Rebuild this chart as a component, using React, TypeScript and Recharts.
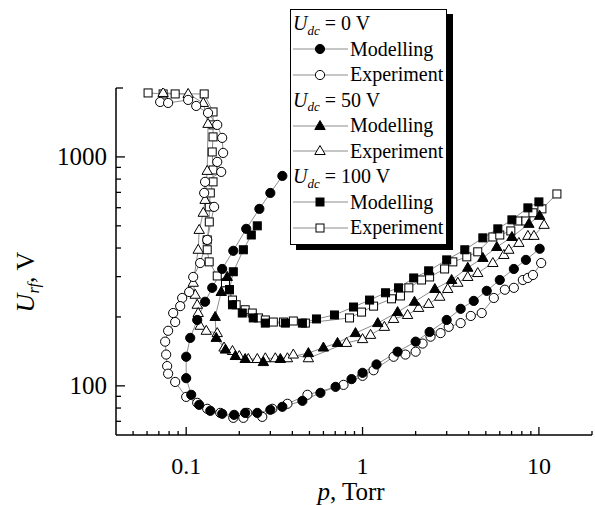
import { LineChart, Line, XAxis, YAxis, Legend } from "recharts";

const FONT = '"Liberation Serif", "Times New Roman", serif';

// U_dc = 0 V
const mod0P = [0.351, 0.3, 0.26, 0.219, 0.185, 0.16, 0.1405, 0.128, 0.1155, 0.1054, 0.1, 0.1, 0.1068, 0.1185, 0.137, 0.16, 0.187, 0.216, 0.253, 0.3, 0.351, 0.456, 0.577, 0.703, 0.866, 1.0, 1.2, 1.58, 2.0, 2.4, 3.0, 3.6, 4.27, 5.06, 6.0, 7.21, 8.44, 10.1];
const mod0U = [826, 696, 593, 485, 389, 324, 268, 233, 194, 162, 134, 108, 91.4, 82.6, 77.8, 75.5, 74.7, 76.2, 76.2, 78.6, 81, 86, 93.2, 99, 107, 114, 124, 141, 156, 172, 194, 217, 235, 260, 290, 324, 355, 397];
const exp0P = [0.0712, 0.079, 0.1026, 0.114, 0.133, 0.15, 0.16, 0.162, 0.15, 0.158, 0.128, 0.1265, 0.144, 0.1316, 0.12, 0.1096, 0.104, 0.0949, 0.0925, 0.0844, 0.0866, 0.079, 0.076, 0.077, 0.078, 0.079, 0.0866, 0.1, 0.1155, 0.1316, 0.156, 0.185, 0.211, 0.222, 0.27, 0.308, 0.375, 0.487, 0.78, 1.0, 1.155, 1.5, 1.75, 2.0, 2.19, 2.43, 2.77, 3.08, 3.6, 4.11, 4.74, 5.55, 6.41, 7.21, 8.11, 8.66, 9.25, 10.3];
const exp0U = [1738, 1721, 1774, 1670, 1557, 1380, 1211, 1041, 951, 860, 778, 696, 605, 434, 344, 299, 257, 242, 223, 208, 190, 174, 156, 137, 122, 113, 104, 89.5, 84.3, 79.4, 76.2, 72.5, 72.5, 76.2, 73.2, 79.4, 83.5, 91.4, 101, 110.6, 117, 134, 137, 141, 153, 164, 170, 181, 188, 202, 208, 242, 263, 268, 290, 296, 305, 344];

// U_dc = 50 V
const mod50P = [0.171, 0.158, 0.146, 0.148, 0.167, 0.19, 0.216, 0.274, 0.342, 0.493, 0.6, 0.721, 0.912, 1.22, 1.58, 1.97, 2.57, 3.2, 3.95, 4.81, 5.77, 7.03, 8.77, 10.1];
const mod50U = [299, 257, 200, 162, 144, 135, 131, 127, 131, 139, 147, 154, 170, 188, 210, 233, 265, 290, 328, 362, 404, 447, 510, 553];
const exp50P = [0.074, 0.1026, 0.125, 0.133, 0.1316, 0.128, 0.125, 0.1185, 0.117, 0.1096, 0.1125, 0.1155, 0.117, 0.12, 0.13, 0.15, 0.164, 0.183, 0.2, 0.225, 0.253, 0.281, 0.32, 0.375, 0.405, 0.493, 0.811, 1.0, 1.11, 1.33, 1.5, 1.8, 2.08, 2.37, 2.74, 3.04, 3.47, 3.95, 4.5, 5.48, 6.33, 6.75, 7.7, 8.66, 9.37, 10.7];
const exp50U = [1903, 1884, 1721, 1394, 869, 649, 570, 480, 393, 282, 250, 226, 208, 183, 174, 170, 147, 142, 135, 131, 131, 132, 132, 132, 137, 132, 154, 160, 167, 181, 196, 204, 219, 228, 245, 265, 282, 299, 311, 344, 373, 393, 421, 452, 452, 505];

// U_dc = 100 V
const mod100P = [0.253, 0.234, 0.211, 0.185, 0.176, 0.183, 0.208, 0.24, 0.281, 0.365, 0.456, 0.548, 0.693, 0.889, 1.096, 1.35, 1.6, 1.95, 2.37, 3.0, 3.8, 4.81, 5.85, 7.03, 8.66, 10.0];
const mod100U = [500, 456, 393, 315, 263, 226, 208, 198, 188, 188, 188, 196, 204, 221, 237, 255, 268, 296, 318, 355, 393, 443, 485, 531, 599, 636];
const exp100P = [0.0608, 0.074, 0.0866, 0.1265, 0.142, 0.142, 0.142, 0.1405, 0.142, 0.142, 0.137, 0.1352, 0.1352, 0.1316, 0.1316, 0.135, 0.15, 0.167, 0.176, 0.183, 0.192, 0.216, 0.237, 0.257, 0.281, 0.312, 0.356, 0.405, 0.474, 0.844, 0.987, 1.155, 1.46, 1.64, 1.83, 2.16, 2.4, 2.92, 3.25, 3.9, 4.5, 5.48, 6.0, 6.93, 7.6, 8.44, 9.25, 10.4, 12.65];
const exp100U = [1903, 1884, 1884, 1884, 1572, 1380, 1223, 1051, 877, 778, 696, 605, 520, 434, 393, 348, 302, 282, 263, 237, 226, 215, 208, 198, 194, 190, 190, 192, 188, 198, 210, 223, 240, 247, 268, 290, 299, 324, 348, 366, 385, 447, 456, 475, 525, 525, 570, 593, 689];

const xTicks = [0.05, 0.06, 0.07, 0.08, 0.09, 0.1, 0.2, 0.3, 0.4, 0.5, 0.6, 0.7, 0.8, 0.9, 1, 2, 3, 4, 5, 6, 7, 8, 9, 10, 20];
const xMajor = [0.1, 1, 10];
const yTicks = [70, 80, 90, 100, 200, 300, 400, 500, 600, 700, 800, 900, 1000, 2000];
const yMajor = [100, 1000];

const legendGroups = [
  { dc: "0", shape: "circle" },
  { dc: "50", shape: "triangle" },
  { dc: "100", shape: "square" },
];
const legendKinds = [
  { label: "Modelling", filled: true },
  { label: "Experiment", filled: false },
];

const toPoints = (p: number[], u: number[]) => p.map((v, i) => ({ p: v, u: u[i] }));

const series = [
  { key: "exp100", data: toPoints(exp100P, exp100U), shape: "square", filled: false },
  { key: "mod100", data: toPoints(mod100P, mod100U), shape: "square", filled: true },
  { key: "exp50", data: toPoints(exp50P, exp50U), shape: "triangle", filled: false },
  { key: "mod50", data: toPoints(mod50P, mod50U), shape: "triangle", filled: true },
  { key: "exp0", data: toPoints(exp0P, exp0U), shape: "circle", filled: false },
  { key: "mod0", data: toPoints(mod0P, mod0U), shape: "circle", filled: true },
];

function Marker({ shape, filled, cx, cy }: any) {
  const fill = filled ? "#000" : "#fff";
  if (cx == null || cy == null) return null;
  if (shape === "square") {
    return <rect x={cx - 4} y={cy - 4} width={8} height={8} fill={fill} stroke="#000" strokeWidth={1} />;
  }
  if (shape === "triangle") {
    return (
      <polygon
        points={`${cx},${cy - 5.5} ${cx - 5.2},${cy + 3.5} ${cx + 5.2},${cy + 3.5}`}
        fill={fill}
        stroke="#000"
        strokeWidth={1}
      />
    );
  }
  return <circle cx={cx} cy={cy} r={4.6} fill={fill} stroke="#000" strokeWidth={1} />;
}

function XTick({ x, y, payload }: any) {
  const major = xMajor.includes(payload.value);
  return (
    <g>
      <line x1={x} x2={x} y1={y} y2={y - (major ? 8 : 4)} stroke="#000" strokeWidth={1.3} />
      {major && (
        <text x={x} y={y + 39} textAnchor="middle" fontSize={24} fontFamily={FONT} fill="#000">
          {payload.value}
        </text>
      )}
    </g>
  );
}

function YTick({ x, y, payload }: any) {
  const major = yMajor.includes(payload.value);
  const len = major ? 9 : payload.value === 2000 ? 7 : 5;
  return (
    <g>
      <line x1={x} x2={x + len} y1={y} y2={y} stroke="#000" strokeWidth={1.3} />
      {major && (
        <text x={x - 9} y={y + 8.5} textAnchor="end" fontSize={25} fontFamily={FONT} fill="#000">
          {payload.value}
        </text>
      )}
    </g>
  );
}

function XTitle({ viewBox }: any) {
  const cx = viewBox.x + viewBox.width / 2 - 3;
  return (
    <text x={cx} y={viewBox.y + 65} textAnchor="middle" fontSize={25} fontFamily={FONT} fill="#000">
      <tspan fontStyle="italic">p</tspan>, Torr
    </text>
  );
}

function YTitle() {
  return (
    <text
      x={34}
      y={282}
      transform="rotate(-90, 34, 282)"
      textAnchor="middle"
      fontSize={26}
      fontFamily={FONT}
      fill="#000"
    >
      <tspan fontStyle="italic">U</tspan>
      <tspan fontStyle="italic" fontSize={16} dy={5}>rf</tspan>
      <tspan dy={-5}>, V</tspan>
    </text>
  );
}

function LegendBox() {
  const row = {
    height: 25.5,
    display: "flex",
    alignItems: "center",
    whiteSpace: "nowrap" as const,
    fontFamily: FONT,
  };
  return (
    <div
      style={{
        boxSizing: "border-box",
        width: 157,
        height: 236,
        border: "1px solid #000",
        boxShadow: "6px 5px 0 #000",
        background: "#fff",
        fontFamily: FONT,
        fontSize: 20,
        color: "#000",
        paddingTop: 1,
      }}
    >
      {legendGroups.map((g) => (
        <div key={g.dc}>
          <div style={{ ...row, paddingLeft: 2 }}>
            <span style={{ fontStyle: "italic", fontFamily: FONT }}>U</span>
            <span style={{ fontStyle: "italic", fontSize: 13, position: "relative", top: 7, fontFamily: FONT }}>dc</span>
            <span style={{ fontFamily: FONT }}>&nbsp;= {g.dc} V</span>
          </div>
          {legendKinds.map((k) => (
            <div key={k.label} style={row}>
              <svg width={57} height={20} style={{ marginLeft: 2, flex: "none" }}>
                <line x1={0} x2={55} y1={10} y2={10} stroke="#8c8c8c" strokeWidth={1} />
                <Marker shape={g.shape} filled={k.filled} cx={27} cy={10} />
              </svg>
              <span style={{ fontFamily: FONT }}>{k.label}</span>
            </div>
          ))}
        </div>
      ))}
    </div>
  );
}

export default function App() {
  return (
    <div style={{ position: "absolute", left: 0, top: 0, width: 595, height: 505, background: "#fff" }}>
      <LineChart width={595} height={505} margin={{ top: 88, right: 3, bottom: 40, left: 56 }}>
        <XAxis
          dataKey="p"
          type="number"
          scale="log"
          domain={[0.04, 20]}
          allowDataOverflow
          ticks={xTicks}
          interval={0}
          tickSize={0}
          tickMargin={0}
          tickLine={false}
          tick={(props: any) => <XTick {...props} />}
          axisLine={{ stroke: "#000", strokeWidth: 1.5 }}
          height={30}
          label={<XTitle />}
        />
        <YAxis
          dataKey="u"
          type="number"
          scale="log"
          domain={[61, 2000]}
          allowDataOverflow
          ticks={yTicks}
          interval={0}
          tickSize={0}
          tickMargin={0}
          tickLine={false}
          tick={(props: any) => <YTick {...props} />}
          axisLine={{ stroke: "#000", strokeWidth: 1.5 }}
          width={60}
          label={<YTitle />}
        />
        {series.map((s) => (
          <Line
            key={s.key}
            data={s.data}
            dataKey="u"
            type="linear"
            stroke="#8c8c8c"
            strokeWidth={1}
            isAnimationActive={false}
            activeDot={false}
            dot={(props: any) => (
              <Marker key={`${s.key}-${props.index}`} shape={s.shape} filled={s.filled} cx={props.cx} cy={props.cy} />
            )}
          />
        ))}
        <Legend
          layout="vertical"
          align="center"
          verticalAlign="middle"
          wrapperStyle={{ left: 290, top: 9, width: "auto", height: "auto" }}
          content={() => <LegendBox />}
        />
      </LineChart>
    </div>
  );
}
